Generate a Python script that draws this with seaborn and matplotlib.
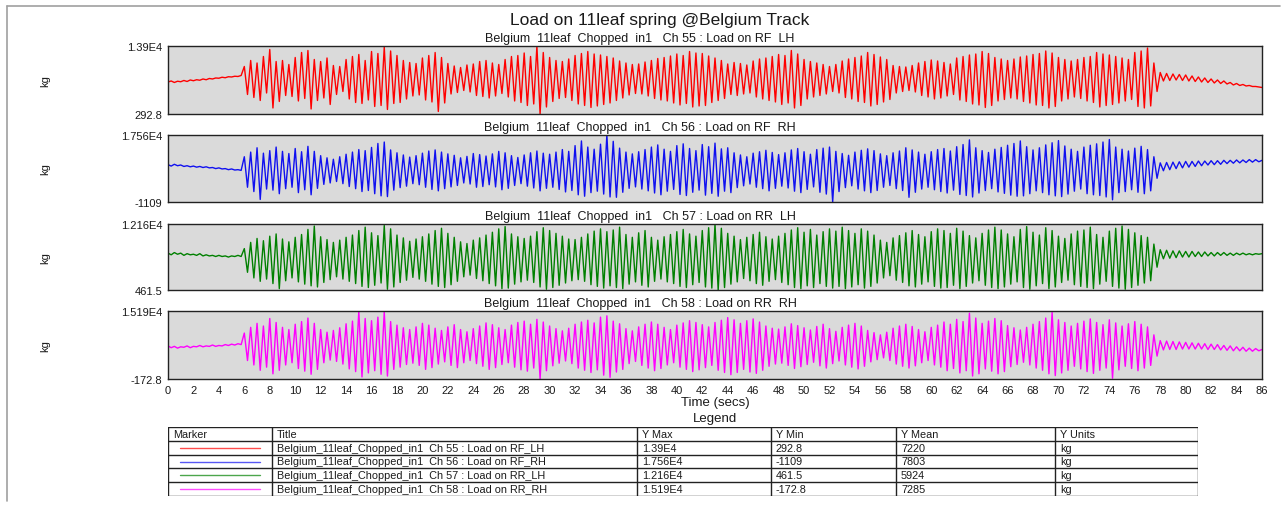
import numpy as np
import pandas as pd
import seaborn as sns
import matplotlib.pyplot as plt
from matplotlib.ticker import MultipleLocator
from matplotlib.lines import Line2D

# load values, one value every 0.25 s (kg)
dt = 0.25

rf_lh = [
    # 0 - 6 s, quiet
    6700, 6900, 6600, 6850, 6750, 7000, 6800, 7100, 6950, 7150, 7050, 7300,
    7150, 7400, 7300, 7500, 7450, 7650, 7550, 7750, 7700, 7850, 7800, 8000,
    # 6 - 78 s
    9800, 4200, 11000, 3600, 10500, 3000, 11800, 4500, 13200, 1500, 10800, 2800,
    11000, 4000, 10200, 3800, 11600, 2900, 12600, 3400, 13000, 1300, 11200, 3000,
    10800, 3500, 11500, 2200, 10000, 4200, 9800, 4800, 11200, 3300, 11800, 2600,
    12200, 2400, 11000, 3100, 12800, 1800, 12400, 2000, 13700, 1200, 12900, 2400,
    12000, 2600, 11000, 3300, 10600, 3900, 10400, 4100, 11500, 3100, 12000, 2700,
    12600, 800, 11600, 2500, 10400, 4300, 9900, 4600, 9600, 5000, 10100, 4700,
    10300, 4000, 10800, 3800, 11000, 3500, 10500, 3900, 10200, 4400, 11200, 3700,
    11800, 2900, 12000, 2600, 12500, 2000, 11800, 2300, 13900, 292.8, 12600, 1700,
    11600, 2800, 11000, 3400, 10800, 3600, 11300, 3000, 12000, 2300, 12400, 2000,
    12800, 1600, 12300, 1900, 12100, 2200, 11800, 2500, 11500, 3000, 10900, 3500,
    10500, 4100, 10200, 4400, 10300, 4300, 10700, 3900, 11000, 3400, 11400, 3100,
    11600, 2900, 11900, 2500, 12300, 2100, 12000, 2400, 12800, 1700, 12500, 1900,
    12400, 2000, 11900, 2600, 11500, 3000, 11000, 3400, 10300, 4200, 10600, 4000,
    10400, 4300, 10100, 4500, 10900, 3700, 11300, 3300, 11500, 3000, 11800, 2700,
    12200, 2200, 12000, 2500, 13000, 1500, 12300, 2000, 11200, 3300, 10800, 3700,
    10500, 4000, 10200, 4300, 9800, 4800, 10200, 4500, 10900, 3600, 11300, 3300,
    11600, 2800, 11900, 2600, 12600, 1900, 12200, 2200, 11700, 2700, 11200, 3200,
    10000, 4500, 9800, 4800, 9700, 5000, 10000, 4700, 10500, 4000, 10800, 3700,
    11100, 3300, 10900, 3500, 10600, 3900, 10300, 4200, 11500, 3100, 11800, 2800,
    12100, 2300, 12300, 2100, 12800, 1600, 12400, 2000, 11600, 2900, 11300, 3200,
    11000, 3500, 11300, 3300, 11700, 2800, 11900, 2500, 12200, 2100, 12400, 2000,
    12900, 1500, 12500, 1800, 11600, 2900, 11200, 3300, 10900, 3700, 11200, 3400,
    11600, 2900, 11800, 2600, 12600, 1700, 12300, 2000, 12100, 2200, 11800, 2500,
    11500, 2900, 11200, 3200, 12600, 1800, 12900, 1500, 13500, 1900, 10500, 4800,
    # 78 - 86 s, dying out
    8600, 6900, 8400, 7000, 8300, 7100, 8200, 7000, 8100, 6900, 7900, 6800,
    7700, 6700, 7500, 6600, 7300, 6500, 7100, 6400, 6900, 6300, 6600, 6100,
    6400, 6000, 6200, 5900, 6000, 5800, 5800, 5700, 5600,
]

rf_rh = [
    9300, 8900, 9400, 9000, 9200, 8800, 9000, 8700, 8900, 8600, 8800, 8500,
    8700, 8400, 8500, 8200, 8400, 8100, 8200, 7900, 8100, 7800, 7900, 7700,
    11500, 3000, 12800, 1800, 14000, -400, 12500, 2500, 13200, 2200, 14200, 1200,
    13000, 2600, 12400, 3000, 13800, 1500, 12900, 2300, 14400, 900, 13000, 2700,
    11800, 3800, 11200, 4200, 10800, 4600, 11500, 4000, 12200, 3200, 12800, 2600,
    13500, 1800, 13200, 2100, 14100, 1200, 15200, 600, 15600, 400, 13400, 2200,
    12600, 2900, 12000, 3300, 11400, 4000, 11800, 3700, 12500, 3000, 13100, 2400,
    13400, 2000, 12800, 2600, 12300, 3100, 11900, 3500, 11200, 4200, 11600, 3900,
    12400, 3000, 12100, 3200, 11700, 3700, 12300, 3100, 13000, 2300, 12600, 2700,
    11800, 3500, 11300, 4000, 12000, 3300, 12600, 2800, 13100, 2000, 12500, 2700,
    12200, 3000, 12800, 2400, 13500, 1700, 13000, 2100, 14600, 900, 15900, 500,
    14200, 1500, 13600, 1900, 15000, 1100, 17560, 300, 15800, 200, 13900, 1600,
    12800, 2700, 12300, 3100, 12900, 2500, 13500, 2000, 14200, 1400, 14800, 900,
    13600, 1900, 13000, 2400, 14600, 1000, 15100, 700, 13800, 1600, 13200, 2200,
    14900, 800, 14300, 1300, 15300, 500, 13700, 1900, 14000, 1500, 12600, 2900,
    12000, 3400, 11500, 3900, 12500, 3000, 12900, 2600, 13300, 2000, 12700, 2700,
    12100, 3300, 12600, 2800, 13400, 1900, 13800, 1500, 12900, 2400, 12200, 3100,
    13500, 1600, 13900, 1100, 14200, -1109, 13000, 1800, 12400, 2900, 11900, 3400,
    12800, 2500, 13300, 2000, 13700, 1500, 13200, 2100, 12300, 3000, 11800, 3500,
    12600, 2600, 13100, 2100, 14000, 200, 13400, 1600, 12800, 2500, 12200, 3000,
    12900, 2300, 13500, 1800, 13800, 1400, 13100, 2200, 14300, 1000, 14900, 700,
    16200, 300, 14000, 1400, 13200, 2100, 12700, 2600, 13600, 1700, 14100, 1300,
    14700, 800, 15200, 500, 15900, 600, 14300, 1200, 13400, 2000, 14000, 1500,
    14800, 900, 15400, 600, 16000, 400, 14500, 1100, 13600, 1900, 13000, 2500,
    14200, 1200, 14700, 900, 15100, 700, 15600, 300, 16300, -500, 14200, 1500,
    13600, 1800, 13100, 2300, 13900, 1600, 14400, 1200, 13500, 2000, 11500, 5500,
    9800, 7600, 9900, 7900, 10000, 8200, 10100, 8400, 10200, 8600, 10200, 8800,
    10300, 9000, 10300, 9200, 10400, 9300, 10400, 9400, 10500, 9600, 10500, 9700,
    10600, 9800, 10600, 9900, 10700, 10000, 10700, 10100, 10500,
]

rr_lh = [
    7000, 6700, 7100, 6800, 7000, 6600, 6900, 6700, 6800, 6600, 6900, 6500,
    6700, 6500, 6600, 6400, 6600, 6400, 6500, 6300, 6500, 6400, 6600, 6400,
    7800, 3600, 8900, 2600, 9600, 2000, 9200, 2400, 10000, 1600, 10400, 700,
    9500, 2100, 9000, 2600, 9800, 1900, 10300, 1500, 11200, 1200, 11800, 1000,
    9900, 1800, 9400, 2300, 8900, 2800, 9300, 2400, 9800, 2000, 10200, 1600,
    11000, 1100, 11600, 900, 10600, 1300, 10100, 1700, 11900, 600, 11300, 1000,
    10200, 1800, 9700, 2200, 9100, 2700, 9500, 2400, 9900, 2000, 10400, 1500,
    11000, 1100, 11400, 900, 10500, 1400, 9800, 2000, 9000, 2800, 8700, 3100,
    9300, 2500, 9700, 2100, 10200, 1600, 10700, 1200, 11300, 700, 11700, 800,
    10400, 1500, 9900, 1900, 9600, 2200, 10000, 1800, 10800, 1000, 11500, 600,
    11000, 900, 10500, 1300, 10000, 1700, 9500, 2100, 9400, 2300, 9800, 2000,
    10400, 1400, 10900, 1100, 11300, 800, 10800, 1200, 11100, 900, 11600, 700,
    10300, 1500, 9800, 1900, 10600, 1300, 11000, 1000, 9800, 2000, 9300, 2400,
    9900, 1900, 10300, 1600, 10800, 1100, 11200, 900, 10400, 1400, 10000, 1800,
    11000, 1000, 11500, 800, 12160, 461.5, 11400, 900, 10500, 1500, 10000, 1900,
    9400, 2500, 9800, 2100, 10300, 1600, 10700, 1300, 9900, 2000, 9500, 2300,
    10000, 1800, 10500, 1400, 11100, 900, 11500, 700, 10700, 1200, 11200, 900,
    10200, 1600, 10800, 1100, 11300, 800, 10900, 1100, 11600, 700, 11000, 1000,
    10500, 1400, 11300, 800, 10900, 1100, 10200, 1700, 9300, 2600, 8900, 3000,
    9700, 2200, 10100, 1800, 10600, 1200, 11000, 1000, 10300, 1500, 9900, 1900,
    10800, 1100, 11300, 800, 11000, 900, 10500, 1300, 11400, 700, 10900, 1100,
    10100, 1700, 9700, 2100, 10500, 1300, 11100, 900, 11600, 700, 11100, 1000,
    10400, 1500, 9900, 1900, 11200, 900, 11700, 600, 10700, 1200, 10200, 1600,
    11500, 700, 11000, 1000, 10000, 1800, 9600, 2200, 10400, 1400, 10900, 1100,
    11100, 900, 11600, 700, 10300, 1500, 9800, 2000, 10900, 1100, 11400, 800,
    11800, 600, 11200, 900, 10600, 1300, 10100, 1700, 9800, 2100, 8600, 4500,
    7600, 6000, 7500, 6100, 7400, 6200, 7400, 6300, 7300, 6300, 7300, 6400,
    7200, 6400, 7200, 6500, 7100, 6500, 7100, 6600, 7100, 6600, 7000, 6600,
    7000, 6700, 7000, 6700, 6900, 6700, 6900, 6800, 6900,
]

rr_rh = [
    7300, 6900, 7200, 6800, 7100, 7000, 7300, 6900, 7200, 7100, 7400, 7100,
    7300, 7200, 7500, 7200, 7400, 7300, 7600, 7400, 7700, 7500, 7800, 7600,
    10200, 4000, 11500, 3000, 12400, 1800, 11800, 2500, 13500, 1000, 12600, 1800,
    11500, 3000, 11000, 3500, 12200, 2200, 12800, 1600, 13600, 900, 12400, 2000,
    11000, 3500, 10400, 4100, 10800, 3800, 11400, 3200, 12300, 2100, 12900, 1500,
    15190, 300, 13500, 1200, 13000, 1700, 13800, 900, 15000, 500, 12800, 2000,
    12000, 2500, 11400, 3100, 11000, 3400, 11600, 2900, 12400, 2000, 12000, 2400,
    11300, 3200, 10800, 3700, 11600, 2900, 12100, 2400, 11000, 3500, 10500, 4000,
    11200, 3300, 11800, 2700, 12500, 2000, 12100, 2400, 11400, 3100, 11000, 3500,
    12000, 2500, 12600, 1900, 12900, 1600, 12200, 2300, 13300, -172.8, 12700, 1700,
    11800, 2800, 11200, 3400, 10700, 3900, 11300, 3300, 12200, 2300, 12700, 1800,
    13100, 1300, 12500, 1900, 13800, 700, 14100, 200, 12900, 1400, 12300, 2000,
    11200, 3300, 10700, 3800, 11600, 2900, 12200, 2300, 12700, 1700, 12200, 2200,
    11500, 3000, 11000, 3500, 12000, 2500, 12500, 2000, 13000, 1500, 12600, 1900,
    12100, 2400, 11600, 2900, 12600, 1800, 13100, 1300, 13700, 800, 13200, 1300,
    12400, 2000, 13000, 1400, 13400, 1100, 12700, 1800, 11800, 2700, 11300, 3200,
    11100, 3400, 11600, 2900, 12300, 2200, 11900, 2600, 11400, 3100, 10900, 3600,
    11700, 2800, 12200, 2300, 11200, 3300, 10600, 3900, 11500, 3000, 12000, 2500,
    12400, 2100, 11800, 2700, 10800, 3700, 10300, 4200, 9800, 4600, 10400, 4000,
    11300, 3200, 11800, 2700, 12200, 2300, 11700, 2800, 11000, 3500, 10500, 4000,
    11500, 3000, 12000, 2500, 12700, 1700, 12200, 2200, 13300, 1200, 12800, 1700,
    14700, 500, 13600, 1000, 12400, 2100, 12900, 1600, 13500, 1000, 13000, 1500,
    11900, 2600, 11400, 3100, 10900, 3600, 11500, 3000, 12200, 2300, 12800, 1800,
    13600, 1000, 14900, 600, 13200, 1200, 12600, 1800, 11800, 2700, 12400, 2100,
    12900, 1500, 13400, 1100, 12600, 1800, 12100, 2300, 13200, 0, 12500, 1900,
    11800, 2700, 12300, 2200, 12800, 1700, 12200, 2300, 11600, 2900, 9800, 5000,
    8500, 6400, 8400, 6500, 8300, 6500, 8200, 6600, 8100, 6600, 8000, 6600,
    7900, 6600, 7800, 6500, 7700, 6500, 7600, 6400, 7400, 6300, 7300, 6200,
    7100, 6200, 7000, 6100, 6800, 6100, 6700, 6200, 6500,
]

channels = ["Ch 55 : Load on RF_LH", "Ch 56 : Load on RF_RH",
            "Ch 57 : Load on RR_LH", "Ch 58 : Load on RR_RH"]
series = [rf_lh, rf_rh, rr_lh, rr_rh]
y_mean = ["7220", "7803", "5924", "7285"]
colors = ["#ff0000", "#1010f0", "#008000", "#ff00ff"]
run_name = "Belgium_11leaf_Chopped_in1"


def sig4(v):
    # 4 significant digits, E notation above 1e4 (like the original software)
    if abs(v) >= 1e4:
        e = int(np.floor(np.log10(abs(v))))
        return f"{v / 10 ** e:.4g}E{e}"
    return f"{v:.4g}"


sns.set_style("white")
plt.rcParams['font.family'] = ['Liberation Sans', 'DejaVu Sans']

W, H = 1285, 506
fig = plt.figure(figsize=(W / 100, H / 100), dpi=100)


def fx(px):
    return px / W


def fy(py):
    return 1 - py / H


# panel boxes in pixels (top, bottom)
panels = [(47, 115), (136, 203), (225, 291), (312, 380)]
left, right = 168, 1262
txt = "#1a1a1a"

for i, (top, bot) in enumerate(panels):
    vals = np.array(series[i], dtype=float)
    t = np.arange(len(vals)) * dt
    ax = fig.add_axes([fx(left), fy(bot), fx(right - left), (bot - top) / H])
    ax.set_facecolor("#dadada")
    sns.lineplot(x=t, y=vals, ax=ax, color=colors[i], linewidth=1.0)
    lo, hi = vals.min(), vals.max()
    ax.set_xlim(0, 86)
    ax.set_ylim(lo, hi)
    ax.set_yticks([lo, hi])
    ax.set_yticklabels([sig4(lo), sig4(hi)], fontsize=8, color=txt)
    ax.set_yticks([lo + (hi - lo) / 3, lo + 2 * (hi - lo) / 3], minor=True)
    ax.xaxis.set_major_locator(MultipleLocator(2))
    ax.xaxis.set_minor_locator(MultipleLocator(0.5))
    ax.tick_params(axis='both', which='major', direction='in', length=3,
                   width=0.8, color="#333333", pad=4)
    ax.tick_params(axis='both', which='minor', direction='in', length=2,
                   width=0.7, color="#333333")
    ax.tick_params(axis='x', labelsize=8, labelcolor=txt)
    if i < 3:
        ax.set_xticklabels([])
    else:
        ax.set_xlabel("Time (secs)", fontsize=9.5, color=txt, labelpad=1)
    ax.set_ylabel("")
    for s in ax.spines.values():
        s.set_color("#222222")
        s.set_linewidth(1.0)
    fig.text(fx(640), fy(top - 8), run_name.replace("_", "  ") + "   " +
             channels[i].replace("_", "  "),
             ha='center', va='center', fontsize=9, color=txt)
    fig.text(fx(45), fy((top + bot) / 2), "kg", rotation=90,
             ha='center', va='center', fontsize=8, color=txt)

fig.text(fx(660), fy(20), "Load on 11leaf spring @Belgium Track",
         ha='center', va='center', fontsize=12.5, color=txt)
fig.text(fx(715), fy(419), "Legend", ha='center', va='center',
         fontsize=9.5, color=txt)

# legend table
tx0, tx1, ty0, ty1 = 168, 1198, 428, 497
tax = fig.add_axes([fx(tx0), fy(ty1), fx(tx1 - tx0), (ty1 - ty0) / H])
tax.set_xlim(tx0, tx1)
tax.set_ylim(ty1, ty0)
tax.axis('off')
cols = [168, 272, 637, 771, 896, 1055, 1198]
rows = np.linspace(ty0, ty1, 6)
for x in cols:
    tax.plot([x, x], [ty0, ty1], color="#222222", lw=1.0)
for y in rows:
    tax.plot([tx0, tx1], [y, y], color="#222222", lw=1.0)

headers = ["Marker", "Title", "Y Max", "Y Min", "Y Mean", "Y Units"]
for c, h in enumerate(headers):
    tax.text(cols[c] + 5, (rows[0] + rows[1]) / 2, h, ha='left',
             va='center', fontsize=7.8, color=txt)
for r in range(4):
    vals = np.array(series[r], dtype=float)
    yc = (rows[r + 1] + rows[r + 2]) / 2
    tax.plot([180, 260], [yc, yc], color=colors[r], lw=1.0, alpha=0.7)
    cells = [run_name + "  " + channels[r], sig4(vals.max()), sig4(vals.min()),
             y_mean[r], "kg"]
    for c, v in enumerate(cells):
        tax.text(cols[c + 1] + 5, yc, v, ha='left', va='center',
                 fontsize=7.8, color=txt)

# outer frame, top and left only
fig.add_artist(Line2D([fx(7), fx(1280)], [fy(7), fy(7)], color="#a0a0a0", lw=1.2))
fig.add_artist(Line2D([fx(7), fx(7)], [fy(7), fy(502)], color="#a0a0a0", lw=1.2))

fig.savefig("out.png", dpi=100)
